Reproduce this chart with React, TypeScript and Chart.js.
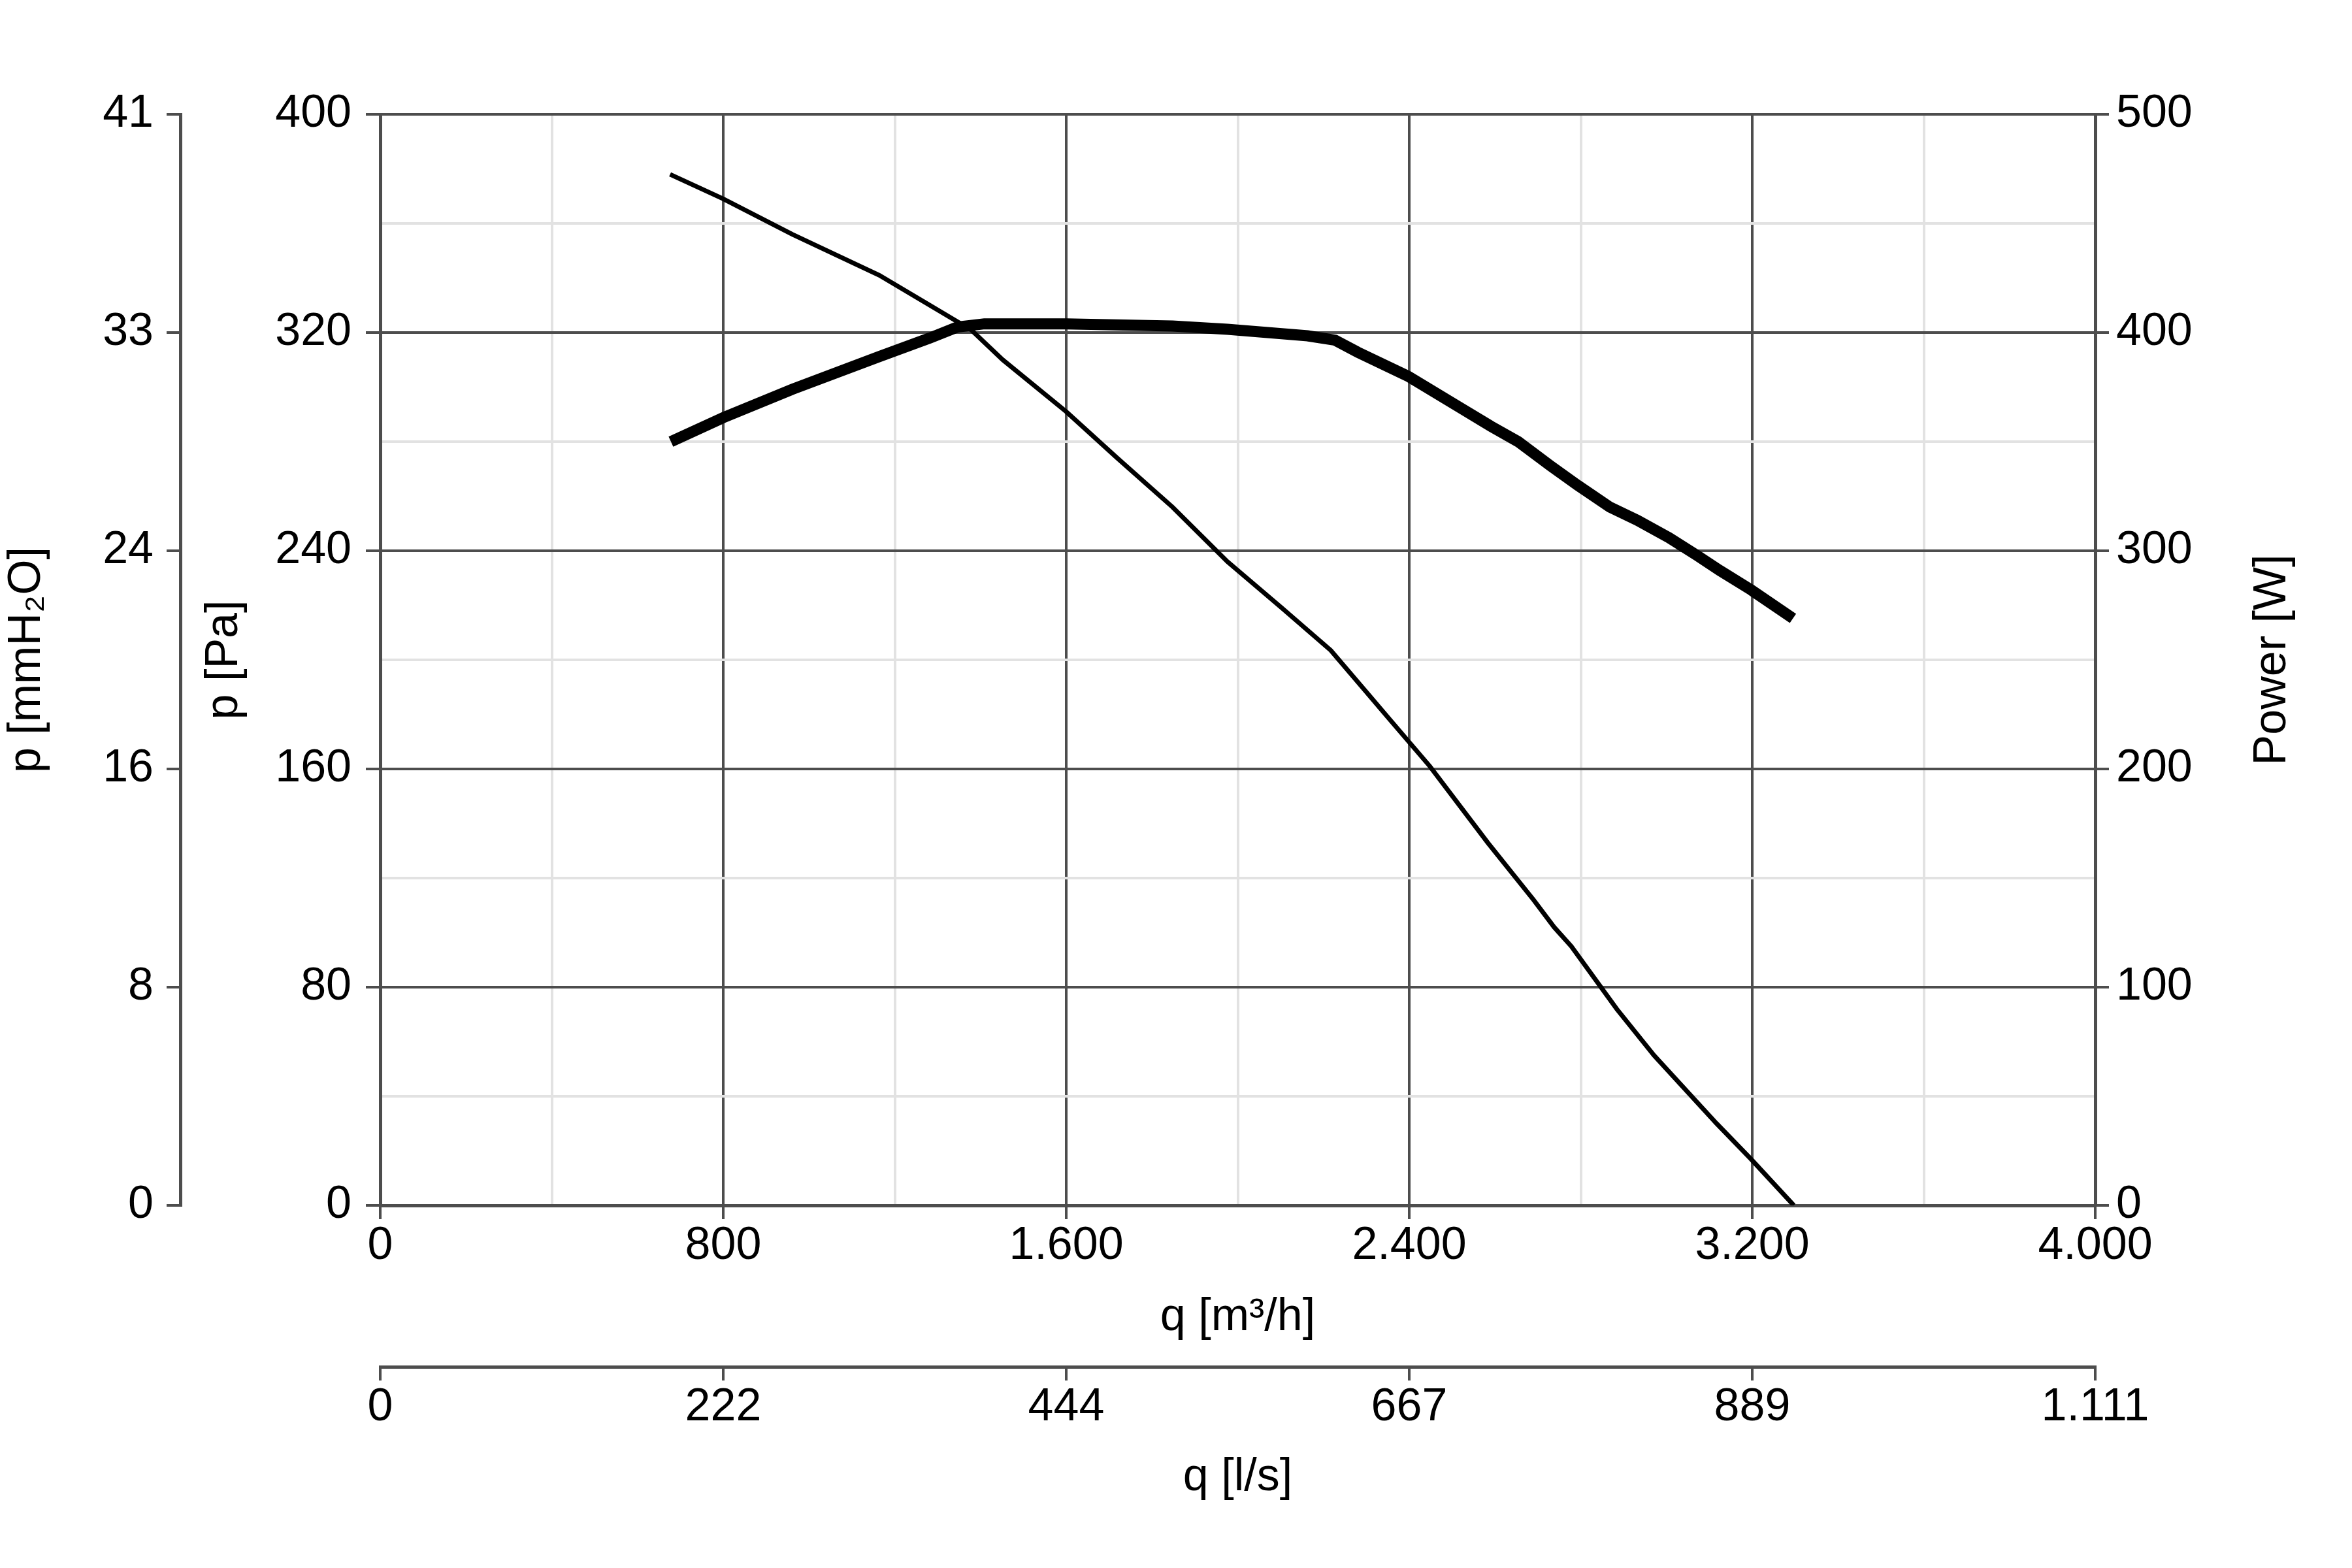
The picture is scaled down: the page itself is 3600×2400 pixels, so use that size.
import React, { useEffect, useRef } from 'react';
import { Chart, registerables } from 'chart.js';

Chart.register(...registerables);

// ---- data ----
const pressureFlow = [676, 800, 961, 1164, 1271, 1378, 1452, 1600, 1719, 1848, 1976, 2103, 2217, 2301, 2350, 2448, 2583, 2690, 2738, 2778, 2884, 2971, 3117, 3197, 3297];
const pressurePa = [378, 369, 356, 341, 331, 321, 310, 291, 274, 256, 236, 219, 203.5, 188, 179, 161, 133, 112, 102, 95, 72, 55, 30, 17, 0];

const powerFlow = [678, 800, 961, 1164, 1282, 1346, 1409, 1600, 1848, 1976, 2163, 2227, 2280, 2397, 2515, 2591, 2654, 2729, 2793, 2868, 2932, 3006, 3070, 3124, 3198, 3295];
const powerW = [350, 361, 374, 389, 397.5, 402.5, 404, 404, 403, 401.5, 398.5, 396.5, 391, 380, 366, 357, 350, 339, 330, 320, 314, 306, 298, 291, 282, 269];

const Q_MAX = 4000;
const Q_MAJOR = 800;
const Q_MINOR = 400;
const PA_MAX = 400;
const PA_MAJOR = 80;
const PA_MINOR = 40;
const W_MAX = 500;
const W_STEP = 100;
const PA_PER_MMH2O = 9.80665;
const M3H_PER_LS = 3.6;

const TITLE_Q_M3H = 'q [m³/h]';
const TITLE_Q_LS = 'q [l/s]';
const TITLE_P_MMH2O = 'p [mmH₂O]';
const TITLE_P_PA = 'p [Pa]';
const TITLE_POWER = 'Power [W]';

// ---- style ----
const FONT = '"Liberation Sans", Arial, Helvetica, sans-serif';
const FONT_SIZE = 70;
const MAJOR = '#4d4d4d';
const MINOR = '#e2e2e2';
const TEXT = '#000000';

const fmt = (n: number) => String(Math.round(n)).replace(/\B(?=(\d{3})+(?!\d))/g, '.');
const isMult = (v: number, m: number) => Math.abs(v / m - Math.round(v / m)) < 1e-6;

const powerTitlePlugin = {
  id: 'powerTitle',
  afterDraw(chart: any) {
    const s = chart.scales.y3;
    if (!s) return;
    const ctx = chart.ctx;
    ctx.save();
    ctx.font = `${FONT_SIZE}px ${FONT}`;
    ctx.fillStyle = TEXT;
    ctx.textAlign = 'center';
    ctx.textBaseline = 'middle';
    ctx.translate(s.right - 121, (s.top + s.bottom) / 2);
    ctx.rotate(-Math.PI / 2);
    ctx.fillText(TITLE_POWER, 0, 0);
    ctx.restore();
  },
};

export default function App() {
  const ref = useRef<HTMLCanvasElement | null>(null);

  useEffect(() => {
    if (!ref.current) return;
    const font = { size: FONT_SIZE, family: FONT };
    const chart = new Chart(ref.current, {
      type: 'line',
      data: {
        datasets: [
          {
            label: 'Pressure',
            data: pressureFlow.map((x, i) => ({ x, y: pressurePa[i] })),
            xAxisID: 'x',
            yAxisID: 'y',
            borderColor: '#000',
            borderWidth: 7,
            pointRadius: 0,
            tension: 0,
            fill: false,
          },
          {
            label: 'Power',
            data: powerFlow.map((x, i) => ({ x, y: powerW[i] })),
            xAxisID: 'x',
            yAxisID: 'y3',
            borderColor: '#000',
            borderWidth: 17,
            pointRadius: 0,
            tension: 0,
            fill: false,
          },
        ],
      },
      options: {
        responsive: false,
        animation: false,
        devicePixelRatio: 1,
        layout: { padding: { top: 175, left: 0, right: 0, bottom: 0 } },
        plugins: {
          legend: { display: false },
          tooltip: { enabled: false },
        },
        scales: {
          x: {
            type: 'linear',
            position: 'bottom',
            weight: 0,
            min: 0,
            max: Q_MAX,
            ticks: {
              stepSize: Q_MINOR,
              maxTicksLimit: 50,
              autoSkip: false,
              maxRotation: 0,
              padding: 0,
              color: TEXT,
              font,
              callback: (v: any) => (isMult(Number(v), Q_MAJOR) ? fmt(Number(v)) : ''),
            },
            grid: {
              color: (c: any) => (c.tick && isMult(c.tick.value, Q_MAJOR) ? MAJOR : MINOR),
              tickColor: (c: any) => (c.tick && isMult(c.tick.value, Q_MAJOR) ? MAJOR : 'rgba(0,0,0,0)'),
              lineWidth: 4,
              tickWidth: 4,
              tickLength: 21,
            },
            border: { display: true, color: MAJOR, width: 5 },
            title: { display: true, text: TITLE_Q_M3H, color: TEXT, font, padding: { top: 0, bottom: 33 } },
            afterFit: (s: any) => { s.height = 247; },
          },
          x2: {
            type: 'linear',
            position: 'bottom',
            weight: 10,
            min: 0,
            max: Q_MAX,
            ticks: {
              stepSize: Q_MAJOR,
              maxTicksLimit: 50,
              autoSkip: false,
              maxRotation: 0,
              padding: 0,
              color: TEXT,
              font,
              callback: (v: any) => fmt(Number(v) / M3H_PER_LS),
            },
            grid: {
              drawOnChartArea: false,
              color: MAJOR,
              tickColor: MAJOR,
              lineWidth: 4,
              tickWidth: 4,
              tickLength: 21,
            },
            border: { display: true, color: MAJOR, width: 5 },
            title: { display: true, text: TITLE_Q_LS, color: TEXT, font, padding: { top: 0, bottom: 96 } },
            afterFit: (s: any) => { s.height = 308; },
          },
          y2: {
            type: 'linear',
            position: 'left',
            weight: 10,
            min: 0,
            max: PA_MAX,
            ticks: {
              stepSize: PA_MAJOR,
              maxTicksLimit: 50,
              padding: 20,
              color: TEXT,
              font,
              callback: (v: any) => String(Math.round(Number(v) / PA_PER_MMH2O)),
            },
            grid: {
              drawOnChartArea: false,
              color: MAJOR,
              tickColor: MAJOR,
              lineWidth: 4,
              tickWidth: 4,
              tickLength: 21,
            },
            border: { display: true, color: MAJOR, width: 5 },
            title: { display: true, text: TITLE_P_MMH2O, color: TEXT, font, padding: { top: 0, bottom: 0 } },
            afterFit: (s: any) => { s.width = 276; },
          },
          y: {
            type: 'linear',
            position: 'left',
            weight: 0,
            min: 0,
            max: PA_MAX,
            ticks: {
              stepSize: PA_MINOR,
              maxTicksLimit: 50,
              padding: 22,
              color: TEXT,
              font,
              callback: (v: any) => (isMult(Number(v), PA_MAJOR) ? String(v) : ''),
            },
            grid: {
              color: (c: any) => (c.tick && isMult(c.tick.value, PA_MAJOR) ? MAJOR : MINOR),
              tickColor: (c: any) => (c.tick && isMult(c.tick.value, PA_MAJOR) ? MAJOR : 'rgba(0,0,0,0)'),
              lineWidth: 4,
              tickWidth: 4,
              tickLength: 22,
            },
            border: { display: true, color: MAJOR, width: 5 },
            title: { display: true, text: TITLE_P_PA, color: TEXT, font, padding: { top: 26, bottom: 0 } },
            afterFit: (s: any) => { s.width = 306; },
          },
          y3: {
            type: 'linear',
            position: 'right',
            weight: 0,
            min: 0,
            max: W_MAX,
            ticks: {
              stepSize: W_STEP,
              maxTicksLimit: 50,
              padding: 11,
              color: TEXT,
              font,
            },
            grid: {
              drawOnChartArea: false,
              color: MAJOR,
              tickColor: MAJOR,
              lineWidth: 4,
              tickWidth: 4,
              tickLength: 21,
            },
            border: { display: true, color: MAJOR, width: 5 },
            title: { display: false, text: TITLE_POWER },
            afterFit: (s: any) => { s.width = 393; },
          },
        },
      } as any,
      plugins: [powerTitlePlugin],
    });
    return () => chart.destroy();
  }, []);

  return (
    <div style={{ position: 'absolute', left: 0, top: 0, width: 3600, height: 2400, background: '#ffffff' }}>
      <canvas ref={ref} width={3600} height={2400} style={{ display: 'block', width: 3600, height: 2400 }} />
    </div>
  );
}
